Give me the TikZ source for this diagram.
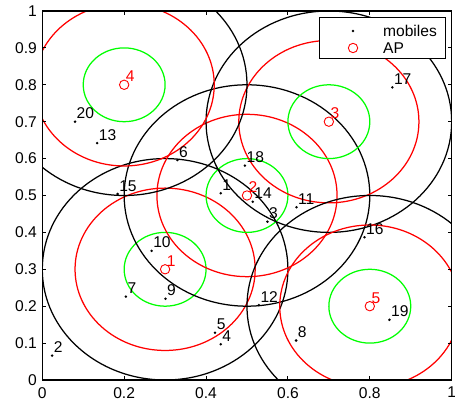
\documentclass[tikz,border=0pt]{standalone}
\usepackage{fontspec}
\setmainfont{Liberation Sans}
\pgfdeclarelayer{edgelayer}
\pgfdeclarelayer{nodelayer}
\pgfsetlayers{edgelayer,nodelayer,main}
\tikzstyle{mobile}=[circle, fill=black, inner sep=0pt, minimum size=2.8pt]
\tikzstyle{ap}=[circle, draw=red, line width=0.9pt, fill=none, inner sep=0pt, minimum size=9.4pt]
\tikzstyle{idlabel}=[anchor=base west, inner sep=0pt, xshift=1.5pt, yshift=3pt]
\tikzstyle{aplabel}=[idlabel, text=red]
\tikzstyle{cover}=[line width=1.25pt]
\tikzstyle{axis}=[line width=1.3pt, draw=black]

\begin{document}
\begin{tikzpicture}[x=409.4pt, y=369pt, font=\fontsize{15.6}{18}\selectfont]
	\useasboundingbox (-0.1033,-0.0542) rectangle (1.0081,1.0298);
	\begin{pgfonlayer}{nodelayer}
		\node [style=ap] (a1) at (0.3, 0.3) {};
		\node [style=ap] (a2) at (0.5, 0.5) {};
		\node [style=ap] (a3) at (0.7, 0.7) {};
		\node [style=ap] (a4) at (0.2, 0.8) {};
		\node [style=ap] (a5) at (0.8, 0.2) {};
		\node [style=aplabel] (b1) at (a1) {1};
		\node [style=aplabel] (b2) at (a2) {2};
		\node [style=aplabel] (b3) at (a3) {3};
		\node [style=aplabel] (b4) at (a4) {4};
		\node [style=aplabel] (b5) at (a5) {5};
		\node [style=mobile] (1) at (0.436, 0.506) {};
		\node [style=mobile] (2) at (0.024, 0.066) {};
		\node [style=mobile] (3) at (0.550, 0.429) {};
		\node [style=mobile] (4) at (0.436, 0.097) {};
		\node [style=mobile] (5) at (0.422, 0.128) {};
		\node [style=mobile] (6) at (0.330, 0.596) {};
		\node [style=mobile] (7) at (0.204, 0.226) {};
		\node [style=mobile] (8) at (0.620, 0.107) {};
		\node [style=mobile] (9) at (0.301, 0.220) {};
		\node [style=mobile] (10) at (0.267, 0.350) {};
		\node [style=mobile] (11) at (0.621, 0.468) {};
		\node [style=mobile] (12) at (0.529, 0.203) {};
		\node [style=mobile] (13) at (0.134, 0.642) {};
		\node [style=mobile] (14) at (0.514, 0.483) {};
		\node [style=mobile] (15) at (0.184, 0.504) {};
		\node [style=mobile] (16) at (0.787, 0.387) {};
		\node [style=mobile] (17) at (0.855, 0.793) {};
		\node [style=mobile] (18) at (0.495, 0.581) {};
		\node [style=mobile] (19) at (0.848, 0.163) {};
		\node [style=mobile] (20) at (0.080, 0.700) {};
		\foreach \n in {1,...,20}
			\node [style=idlabel] (t\n) at (\n) {\n};
	\end{pgfonlayer}
	\begin{pgfonlayer}{edgelayer}
		\begin{scope}
			\clip (0,0) rectangle (1,1);
			\foreach \a in {1,...,5} {
				\draw [style=cover, draw=black] (a\a.center) circle [radius=0.3];
				\draw [style=cover, draw=red] (a\a.center) circle [radius=0.22];
				\draw [style=cover, draw=green] (a\a.center) circle [radius=0.1];
			}
		\end{scope}
	\end{pgfonlayer}
	\draw [style=axis] (0,0) rectangle (1,1);
	\foreach \v [count=\i] in {0,0.1,0.2,0.3,0.4,0.5,0.6,0.7,0.8,0.9,1} {
		\draw [style=axis, line width=0.9pt] (0,\v) -- ++(4pt,0);
		\draw [style=axis, line width=0.9pt] (1,\v) -- ++(-4pt,0);
		\node [anchor=east, inner sep=0pt] (ytick\i) at (-0.013,\v) {\v};
	}
	\foreach \v [count=\i] in {0,0.2,0.4,0.6,0.8,1} {
		\draw [style=axis, line width=0.9pt] (\v,0) -- ++(0,4pt);
		\draw [style=axis, line width=0.9pt] (\v,1) -- ++(0,-4pt);
		\node [anchor=north, inner sep=0pt] (xtick\i) at (\v,-0.019) {\v};
	}
	\draw [fill=white, line width=0.9pt] (0.678,0.8726) rectangle (0.9836,0.9837);
	\node [style=mobile] (key1) at (0.759,0.9458) {};
	\node [style=ap] (key2) at (0.759,0.8997) {};
	\node [anchor=west, inner sep=0pt] (keytext1) at (0.832,0.9458) {mobiles};
	\node [anchor=west, inner sep=0pt] (keytext2) at (0.832,0.8997) {AP};
\end{tikzpicture}
\end{document}
